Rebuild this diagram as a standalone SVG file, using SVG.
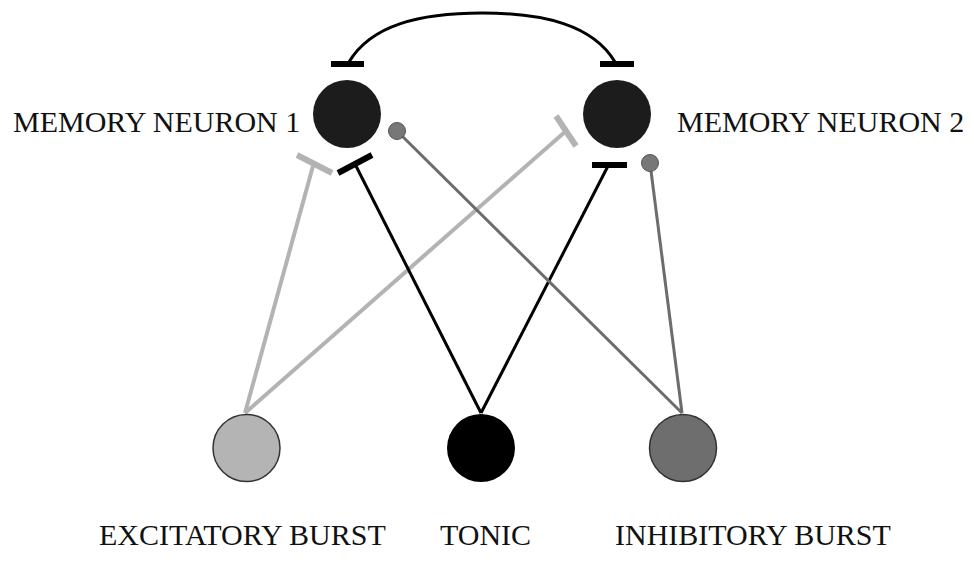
<svg xmlns="http://www.w3.org/2000/svg" width="974" height="565" viewBox="0 0 974 565">
<style>
.lbl{font-family:"Liberation Serif","Times New Roman",serif;font-size:30px;fill:#111}
.blk{stroke:#000;stroke-width:3;fill:none}
.exc{stroke:#b3b3b3;stroke-width:4;fill:none}
.inh{stroke:#6c6c6c;stroke-width:3;fill:none}
.barB{stroke:#000;stroke-width:6;fill:none}
.barG{stroke:#b3b3b3;stroke-width:6;fill:none}
.mem{fill:#1c1c1c}
</style>
<rect width="974" height="565" fill="#fff"/>
<g id="connectors">
  <path class="blk" d="M349,62 C371,25 420,13 482,13 S593,25 615,62"/>
  <line class="barB" x1="331" y1="64" x2="364" y2="64"/>
  <line class="barB" x1="600" y1="64" x2="634" y2="64"/>
  <line class="exc" x1="245" y1="413" x2="313" y2="166"/>
  <line class="barG" x1="297" y1="155" x2="332" y2="173"/>
  <line class="exc" x1="245" y1="413" x2="566" y2="131"/>
  <line class="barG" x1="556" y1="116" x2="576" y2="146"/>
  <line class="blk" x1="481" y1="413" x2="356" y2="166"/>
  <line class="barB" x1="338" y1="173" x2="372" y2="155"/>
  <line class="blk" x1="481" y1="413" x2="608" y2="166"/>
  <line class="barB" x1="592" y1="165" x2="627" y2="165"/>
  <line class="inh" x1="682" y1="413" x2="397" y2="131"/>
  <circle cx="397" cy="131" r="8.5" fill="#777" stroke="#555" stroke-width="1"/>
  <line class="inh" x1="682" y1="413" x2="650" y2="163"/>
  <circle cx="650" cy="163" r="8.5" fill="#777" stroke="#555" stroke-width="1"/>
</g>
<g id="memory1">
  <circle class="mem" cx="347" cy="114" r="34"/>
  <text class="lbl" x="13" y="132">MEMORY NEURON 1</text>
</g>
<g id="memory2">
  <circle class="mem" cx="617" cy="114" r="34"/>
  <text class="lbl" x="677" y="132">MEMORY NEURON 2</text>
</g>
<g id="excitatory">
  <circle cx="246.5" cy="448" r="33.5" fill="#b4b4b4" stroke="#333" stroke-width="1.5"/>
  <text class="lbl" x="99" y="545">EXCITATORY BURST</text>
</g>
<g id="tonic">
  <circle cx="481" cy="448" r="34" fill="#000"/>
  <text class="lbl" x="440" y="545">TONIC</text>
</g>
<g id="inhibitory">
  <circle cx="683" cy="448" r="33.5" fill="#6e6e6e" stroke="#333" stroke-width="1.5"/>
  <text class="lbl" x="615" y="545">INHIBITORY BURST</text>
</g>
</svg>
